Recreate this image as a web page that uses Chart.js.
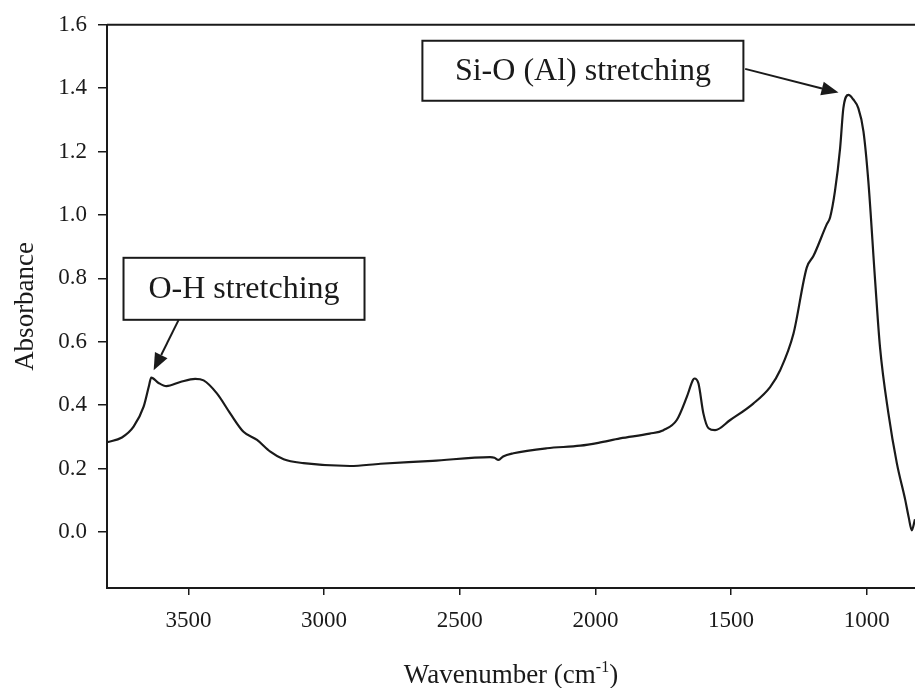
<!DOCTYPE html>
<html>
<head>
<meta charset="utf-8">
<script src="https://cdn.jsdelivr.net/npm/chart.js@4"></script>
<style>
  html, body { margin: 0; padding: 0; background: #fff; }
  #wrap { width: 915px; height: 688px; position: relative; }
</style>
</head>
<body>
<div id="wrap"><canvas id="ftir"></canvas></div>
<script>
// spectrum
const wavenumber = [3800, 3745, 3702, 3665, 3645, 3637, 3610, 3581, 3530, 3475, 3444, 3395, 3346, 3297, 3247, 3198, 3149, 3076, 2904, 2792, 2600, 2388, 2372, 2357, 2340, 2302, 2179, 2056, 1989, 1909, 1800, 1749, 1700, 1663, 1640, 1635, 1620, 1602, 1583, 1559, 1503, 1418, 1356, 1319, 1270, 1221, 1196, 1147, 1135, 1117, 1098, 1086, 1067, 1050, 1031, 1012, 994, 969, 951, 920, 889, 858, 845, 834, 822];
const absorbance = [0.283, 0.298, 0.332, 0.395, 0.462, 0.487, 0.470, 0.460, 0.473, 0.483, 0.478, 0.437, 0.374, 0.316, 0.290, 0.253, 0.229, 0.217, 0.208, 0.215, 0.224, 0.236, 0.234, 0.227, 0.238, 0.248, 0.264, 0.272, 0.281, 0.295, 0.310, 0.321, 0.353, 0.426, 0.480, 0.484, 0.468, 0.374, 0.327, 0.321, 0.353, 0.405, 0.457, 0.510, 0.625, 0.834, 0.871, 0.971, 0.992, 1.075, 1.211, 1.337, 1.379, 1.365, 1.337, 1.264, 1.107, 0.793, 0.583, 0.374, 0.217, 0.101, 0.045, 0.005, 0.04];

const xTicks = [1000, 1500, 2000, 2500, 3000, 3500];
const yTicks = [0, 0.2, 0.4, 0.6, 0.8, 1.0, 1.2, 1.4, 1.6];

// labelled boxes with arrows (data coords)
const noteText = ['O-H stretching', 'Si-O (Al) stretching'];
const noteBox = [[3295, 0.767], [2046, 1.455]];
const noteSize = [[241, 62], [321, 60]];
const noteFrom = [[3536, 0.669], [1448, 1.461]];
const noteTo = [[3628, 0.510], [1104, 1.386]];

const SERIF = '"Liberation Serif", "Times New Roman", serif';
const INK = '#1a1a1a';

const points = wavenumber.map((w, i) => ({ x: w, y: absorbance[i] }));

// top border line + x title with superscript + annotations
const extras = {
    id: 'extras',
    afterDraw(chart) {
        const { ctx, chartArea, scales } = chart;
        ctx.save();
        ctx.strokeStyle = INK;
        ctx.lineWidth = 2;
        ctx.beginPath();
        ctx.moveTo(chartArea.left, chartArea.top);
        ctx.lineTo(chartArea.right, chartArea.top);
        ctx.stroke();

        // x title
        const main = 'Wavenumber (cm', sup = '-1', tail = ')';
        ctx.fillStyle = INK;
        ctx.textBaseline = 'alphabetic';
        ctx.font = '27px ' + SERIF;
        const w1 = ctx.measureText(main).width, w3 = ctx.measureText(tail).width;
        ctx.font = '16px ' + SERIF;
        const w2 = ctx.measureText(sup).width;
        let x = (chartArea.left + chartArea.right) / 2 - (w1 + w2 + w3) / 2;
        const base = 683;
        ctx.font = '27px ' + SERIF;
        ctx.fillText(main, x, base);
        ctx.font = '16px ' + SERIF;
        ctx.fillText(sup, x + w1, base - 11);
        ctx.font = '27px ' + SERIF;
        ctx.fillText(tail, x + w1 + w2, base);

        // annotations
        noteText.forEach((t, i) => {
            const cx = scales.x.getPixelForValue(noteBox[i][0]);
            const cy = scales.y.getPixelForValue(noteBox[i][1]);
            const [bw, bh] = noteSize[i];
            ctx.fillStyle = '#fff';
            ctx.fillRect(cx - bw / 2, cy - bh / 2, bw, bh);
            ctx.lineWidth = 2;
            ctx.strokeStyle = INK;
            ctx.strokeRect(cx - bw / 2, cy - bh / 2, bw, bh);
            ctx.fillStyle = INK;
            ctx.font = '32px ' + SERIF;
            ctx.textAlign = 'center';
            ctx.textBaseline = 'middle';
            ctx.fillText(t, cx, cy + 1);

            const x1 = scales.x.getPixelForValue(noteFrom[i][0]);
            const y1 = scales.y.getPixelForValue(noteFrom[i][1]);
            const x2 = scales.x.getPixelForValue(noteTo[i][0]);
            const y2 = scales.y.getPixelForValue(noteTo[i][1]);
            const a = Math.atan2(y2 - y1, x2 - x1);
            const hl = 17, hw = 7;
            const bx = x2 - hl * Math.cos(a), by = y2 - hl * Math.sin(a);
            ctx.beginPath();
            ctx.moveTo(x1, y1);
            ctx.lineTo(bx, by);
            ctx.stroke();
            ctx.beginPath();
            ctx.moveTo(x2, y2);
            ctx.lineTo(bx + hw * Math.sin(a), by - hw * Math.cos(a));
            ctx.lineTo(bx - hw * Math.sin(a), by + hw * Math.cos(a));
            ctx.closePath();
            ctx.fill();
        });
        ctx.restore();
    }
};

new Chart(document.getElementById('ftir'), {
    type: 'line',
    data: {
        datasets: [{
            data: points,
            borderColor: INK,
            borderWidth: 2.2,
            pointRadius: 0,
            cubicInterpolationMode: 'monotone',
            fill: false
        }]
    },
    options: {
        responsive: true,
        maintainAspectRatio: false,
        animation: false,
        layout: { padding: { top: 23, right: 0, bottom: 0, left: 0 } },
        plugins: { legend: { display: false }, tooltip: { enabled: false } },
        scales: {
            x: {
                type: 'linear',
                reverse: true,
                min: 822,
                max: 3800,
                afterBuildTicks: s => { s.ticks = xTicks.map(v => ({ value: v })); },
                afterFit: s => { s.height = 100; },
                grid: { display: true, drawOnChartArea: false, tickLength: 7, color: INK, lineWidth: 1.5 },
                border: { display: true, color: INK, width: 2 },
                ticks: {
                    color: INK,
                    font: { family: SERIF, size: 23 },
                    padding: 12,
                    maxRotation: 0,
                    callback: v => String(v)
                }
            },
            y: {
                type: 'linear',
                min: -0.177,
                max: 1.6,
                afterBuildTicks: s => { s.ticks = yTicks.map(v => ({ value: v })); },
                afterFit: s => { s.width = 107; },
                grid: { display: true, drawOnChartArea: false, tickLength: 9, color: INK, lineWidth: 1.5 },
                border: { display: true, color: INK, width: 2 },
                ticks: {
                    color: INK,
                    font: { family: SERIF, size: 23 },
                    padding: 11,
                    callback: v => v.toFixed(1)
                },
                title: {
                    display: true,
                    text: 'Absorbance',
                    color: INK,
                    font: { family: SERIF, size: 27 },
                    padding: { top: 10, bottom: 0 }
                }
            }
        }
    },
    plugins: [extras]
});
</script>
</body>
</html>
